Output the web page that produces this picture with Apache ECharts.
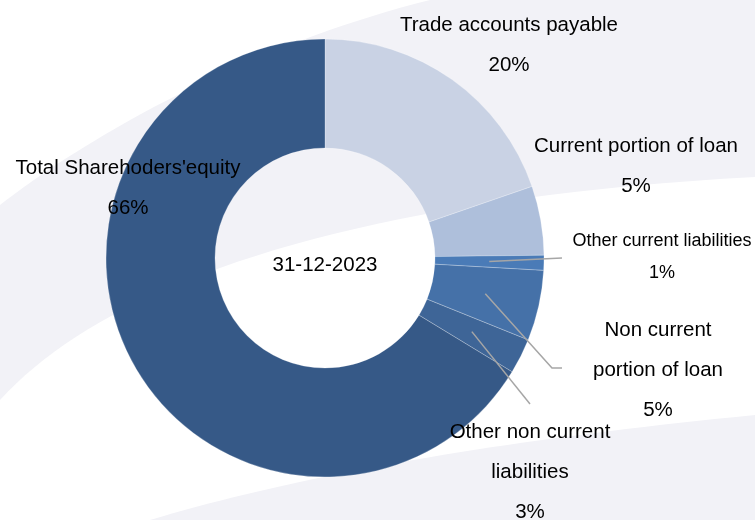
<!DOCTYPE html>
<html><head><meta charset="utf-8">
<script src="https://cdn.jsdelivr.net/npm/echarts@6/dist/echarts.min.js"></script>
<style>html,body{margin:0;padding:0;background:#fff}#c{width:755px;height:520px}</style>
</head><body><div id="c"></div>
<script>
// ---- data ----
const categories = ['Trade accounts payable', 'Current portion of loan', 'Other current liabilities',
  'Non current\nportion of loan', 'Other non current\nliabilities', "Total Sharehoders'equity"];
const shareValues = [19.7, 5.1, 1.1, 5.2, 2.6, 66.3];
const centerTitle = '31-12-2023';

// ---- styling / layout ----
const sliceColors = ['#c9d2e4', '#aebfdb', '#4a7bb7', '#4571a8', '#3e6597', '#365987'];
const FONT = '"Liberation Sans", Arial, sans-serif';
const CX = 325, CY = 258, R_IN = 110, R_OUT = 219;
const labelPos = [[509, 45], [636, 166], [662, 257], [658, 370], [530, 472], [128, 188]];
// leader line bend / end points (label side), null = no leader line
const leaderEnds = [null, null, [[562, 258], [562, 258]], [[552, 368], [562, 368]], [[530, 404], [530, 404]], null];

function bez(p0, p1, p2, p3, n) {
  const pts = [];
  for (let i = 0; i <= n; i++) {
    const t = i / n, u = 1 - t;
    pts.push([u*u*u*p0[0] + 3*u*u*t*p1[0] + 3*u*t*t*p2[0] + t*t*t*p3[0],
              u*u*u*p0[1] + 3*u*u*t*p1[1] + 3*u*t*t*p2[1] + t*t*t*p3[1]]);
  }
  return pts;
}
const bgGray = '#f2f2f7';
const regionA = [].concat(
  [[430, 0], [755, 0]],
  bez([755, 177], [330, 200], [100, 290], [0, 400], 40),
  bez([0, 205], [70, 150], [230, 50], [430, 0], 40)
);
const regionB = [].concat(bez([150, 520], [300, 475], [500, 440], [755, 415], 40), [[755, 520]]);

// mid angle of a slice (clockwise from 12 o'clock), from the data
function midAngle(idx) {
  const total = shareValues.reduce((a, b) => a + b, 0);
  let before = 0;
  for (let k = 0; k < idx; k++) before += shareValues[k];
  return (before + shareValues[idx] / 2) / total * Math.PI * 2;
}

const chart = echarts.init(document.getElementById('c'), null, { renderer: 'canvas' });

const pieBase = { type: 'pie', center: [CX, CY], radius: [R_IN, R_OUT], startAngle: 90, clockwise: true,
  silent: true, emphasis: { disabled: true } };

chart.setOption({
  animation: false,
  backgroundColor: '#ffffff',
  graphic: {
    elements: [
      { type: 'polygon', z: -100, silent: true, shape: { points: regionA }, style: { fill: bgGray } },
      { type: 'polygon', z: -100, silent: true, shape: { points: regionB }, style: { fill: bgGray } },
      { type: 'text', z: 100, silent: true, x: CX, y: CY + 7,
        style: { text: centerTitle, font: '20.5px ' + FONT, fill: '#000', textAlign: 'center', textVerticalAlign: 'middle' } }
    ]
  },
  series: [
    Object.assign({}, pieBase, {
      z: 2,
      label: { show: false },
      labelLine: { show: false },
      itemStyle: { borderColor: 'rgba(255,255,255,0.35)', borderWidth: 0.7 },
      data: categories.map((name, i) => ({ name: name, value: shareValues[i], itemStyle: { color: sliceColors[i] } }))
    }),
    Object.assign({}, pieBase, {
      z: 5,
      avoidLabelOverlap: false,
      itemStyle: { color: 'rgba(0,0,0,0)', borderWidth: 0 },
      label: {
        show: true,
        position: 'outside',
        color: '#000',
        fontFamily: FONT,
        align: 'center',
        formatter: p => p.name + '\n' + Math.round(p.percent) + '%'
      },
      labelLine: { smooth: false, minTurnAngle: 0, lineStyle: { color: '#a6a6a6', width: 1.5 } },
      labelLayout: function (params) {
        const i = params.dataIndex;
        const p = labelPos[i];
        const res = { x: p[0], y: p[1], align: 'center', verticalAlign: 'middle' };
        if (leaderEnds[i]) {
          const a = midAngle(i), r = R_OUT * 0.75;
          res.labelLinePoints = [[CX + r * Math.sin(a), CY - r * Math.cos(a)], leaderEnds[i][0], leaderEnds[i][1]];
        }
        return res;
      },
      data: categories.map((name, i) => ({
        name: name,
        value: shareValues[i],
        label: { fontSize: i === 2 ? 18 : 20.5, lineHeight: i === 2 ? 32 : 40 },
        labelLine: { show: !!leaderEnds[i] }
      }))
    })
  ]
});
</script></body></html>
